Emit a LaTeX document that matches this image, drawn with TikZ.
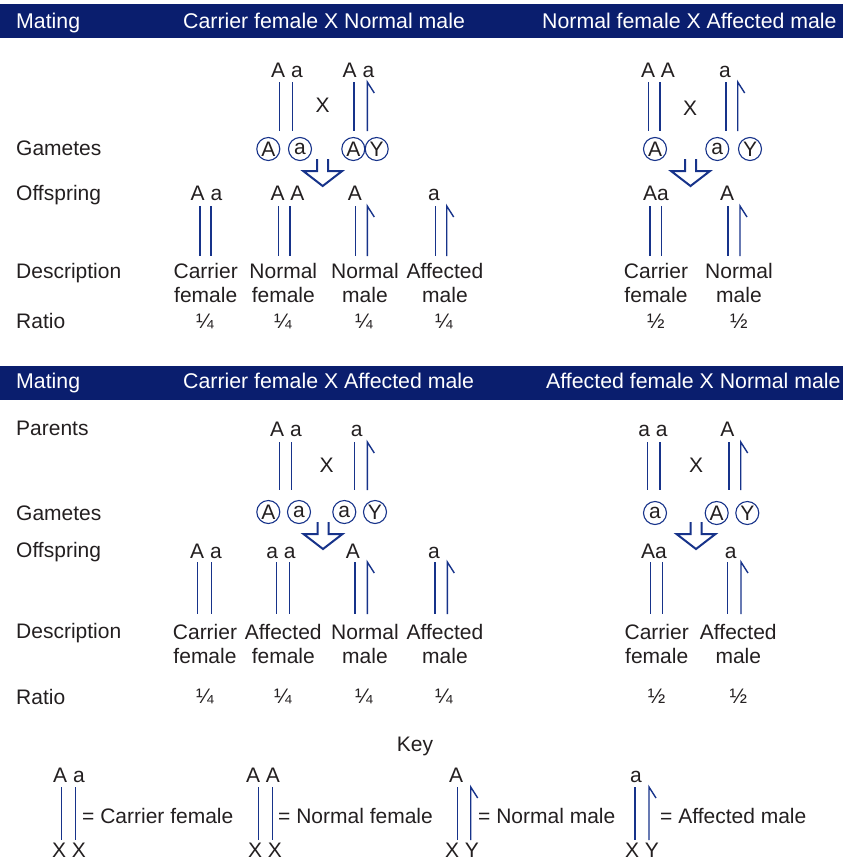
\documentclass[tikz,border=0pt]{standalone}
\usepackage{fontspec}
\setmainfont{Liberation Sans}
\usetikzlibrary{positioning}

\definecolor{navy}{HTML}{0A1E6E}
\definecolor{chromblue}{HTML}{17338A}
\definecolor{txt}{HTML}{231F20}

% X chromosome: x, top, bottom
\newcommand{\xchr}[3]{\draw[chr] (#1,#2) -- (#1,#3);}
% Y chromosome: x, top, bottom (hook at the top)
\newcommand{\ychr}[3]{\draw[chr] (#1,#3) -- (#1,#2) -- ++(7,11);}
% pairs: female XX and male XY
\newcommand{\fpair}[4]{\xchr{#1}{#3}{#4}\xchr{#2}{#3}{#4}}
\newcommand{\mpair}[4]{\xchr{#1}{#3}{#4}\ychr{#2}{#3}{#4}}
% open arrow down: centre x, top y
\newcommand{\gamarrow}[2]{\draw[arr] (#1-5.5,#2) -- ++(0,12) -- ++(-14,0) -- (#1,#2+27) -- (#1+19.5,#2+12) -- ++(-14,0) -- ++(0,-12);}

\begin{document}
\begin{tikzpicture}[x=1pt,y=-1pt,
    font=\fontsize{21}{24}\selectfont,
    lbl/.style={anchor=base west,text=txt,inner sep=0pt},
    al/.style={anchor=base,text=txt,inner sep=0pt},
    hdr/.style={anchor=base west,text=white,inner sep=0pt,font=\fontsize{21.3}{24}\selectfont},
    desc/.style={anchor=base,align=center,text=txt,inner sep=0pt},
    gam/.style={circle,draw=chromblue,line width=1.1pt,inner sep=0pt,minimum size=23pt,text=txt},
    chr/.style={draw=chromblue,line width=1.4pt},
    arr/.style={draw=chromblue,line width=2pt,line join=miter}]
  \useasboundingbox (0,0) rectangle (843,860);

  % headers
  \fill[navy] (0,4) rectangle (843,38);
  \fill[navy] (0,366) rectangle (843,400);
  \path (16,28) node (h1) [hdr] {Mating}
        (183,28) node (h1l) [hdr] {Carrier female X Normal male}
        (542,28) node (h1r) [hdr] {Normal female X Affected male}
        (16,388) node (h2) [hdr] {Mating}
        (183,388) node (h2l) [hdr] {Carrier female X Affected male}
        (546,388) node (h2r) [hdr] {Affected female X Normal male};

  % row labels
  \path (16,155) node (g1) [lbl] {Gametes}
        (16,200) node (o1) [lbl] {Offspring}
        (16,278) node (d1) [lbl] {Description}
        (16,328) node (r1) [lbl] {Ratio}
        (16,435) node (p2) [lbl] {Parents}
        (16,520) node (g2) [lbl] {Gametes}
        (16,557) node (o2) [lbl] {Offspring}
        (16,638) node (d2) [lbl] {Description}
        (16,704) node (r2) [lbl] {Ratio};

  % carrier female x normal male
  \path (287,77) node (p1a) [al] {A a}
        (358.5,77) node (p1b) [al] {A a}
        (322.7,112) node (x1) [al] {X}
        (268.3,149) node (g1a) [gam] {A}
        (300,149) node (g1b) [gam] {a}
        (353.3,149) node (g1c) [gam] {A}
        (376.7,149) node (g1d) [gam] {Y};
  \fpair{279.3}{292.7}{82}{131}
  \mpair{354}{367.3}{82}{131}
  \gamarrow{322.7}{159}
  \path (206.5,200) node (k1a) [al] {A a}
        (287.5,200) node (k1b) [al] {A A}
        (355,200) node (k1c) [al] {A}
        (434,200) node (k1d) [al] {a};
  \fpair{200}{211}{206}{256}
  \fpair{278.3}{290}{206}{256}
  \mpair{355.7}{367.3}{206}{256}
  \mpair{435.3}{446.7}{206}{256}
  \path (205.7,302) node (e1a) [desc] {Carrier\\female}
        (283.3,302) node (e1b) [desc] {Normal\\female}
        (365,302) node (e1c) [desc] {Normal\\male}
        (445,302) node (e1d) [desc] {Affected\\male}
        (205,328) node (q1a) [al] {¼}
        (283,328) node (q1b) [al] {¼}
        (364,328) node (q1c) [al] {¼}
        (444,328) node (q1d) [al] {¼};

  % normal female x affected male
  \path (658,77) node (p2a) [al] {A A}
        (725,77) node (p2b) [al] {a}
        (690,115) node (x2) [al] {X}
        (655,149) node (g2a) [gam] {A}
        (717.3,149) node (g2b) [gam] {a}
        (750,149) node (g2c) [gam] {Y};
  \fpair{648.3}{660}{82}{131}
  \mpair{726}{737.7}{82}{131}
  \gamarrow{690.5}{159}
  \path (656,200) node (k2a) [al] {Aa}
        (727,200) node (k2b) [al] {A};
  \fpair{650}{661.5}{206}{256}
  \mpair{728}{740}{206}{256}
  \path (656,302) node (e2a) [desc] {Carrier\\female}
        (739,302) node (e2b) [desc] {Normal\\male}
        (656,328) node (q2a) [al] {½}
        (739,328) node (q2b) [al] {½};

  % carrier female x affected male
  \path (286,436) node (p3a) [al] {A a}
        (356.7,436) node (p3b) [al] {a}
        (326.7,472) node (x3) [al] {X}
        (268.3,512) node (g3a) [gam] {A}
        (299,512) node (g3b) [gam] {a}
        (344.3,512) node (g3c) [gam] {a}
        (375,512) node (g3d) [gam] {Y};
  \fpair{279.3}{291.7}{442}{490}
  \mpair{354.3}{367.3}{442}{490}
  \gamarrow{323}{522}
  \path (206,558) node (k3a) [al] {A a}
        (281,558) node (k3b) [al] {a a}
        (353,558) node (k3c) [al] {A}
        (434,558) node (k3d) [al] {a};
  \fpair{197.7}{211.7}{562}{614}
  \fpair{276.7}{289.3}{562}{614}
  \mpair{355}{367.3}{562}{614}
  \mpair{435}{447.3}{562}{614}
  \path (205,663) node (e3a) [desc] {Carrier\\female}
        (283.3,663) node (e3b) [desc] {Affected\\female}
        (365,663) node (e3c) [desc] {Normal\\male}
        (445,663) node (e3d) [desc] {Affected\\male}
        (205,703) node (q3a) [al] {¼}
        (283,703) node (q3b) [al] {¼}
        (364,703) node (q3c) [al] {¼}
        (444,703) node (q3d) [al] {¼};

  % affected female x normal male
  \path (653,436) node (p4a) [al] {a a}
        (727.3,436) node (p4b) [al] {A}
        (696,472) node (x4) [al] {X}
        (655,513) node (g4a) [gam] {a}
        (716.7,513) node (g4b) [gam] {A}
        (747.3,513) node (g4c) [gam] {Y};
  \fpair{647.7}{660}{442}{490}
  \mpair{729}{740.7}{442}{490}
  \gamarrow{696}{522}
  \path (654,558) node (k4a) [al] {Aa}
        (730.7,558) node (k4b) [al] {a};
  \fpair{650.7}{662.3}{562}{614}
  \mpair{727.3}{741}{562}{614}
  \path (656.7,663) node (e4a) [desc] {Carrier\\female}
        (738.3,663) node (e4b) [desc] {Affected\\male}
        (656.7,703) node (q4a) [al] {½}
        (738.3,703) node (q4b) [al] {½};

  % key
  \path (415,751) node (key) [al] {Key}
        (69,782) node (ka) [al] {A a}
        (69,857) node (kxa) [al] {X X}
        (82,823) node (kta) [lbl] {= Carrier female}
        (263,782) node (kb) [al] {A A}
        (265,857) node (kxb) [al] {X X}
        (278,823) node (ktb) [lbl] {= Normal female}
        (456,782) node (kc) [al] {A}
        (462,857) node (kxc) [al] {X Y}
        (478,823) node (ktc) [lbl] {= Normal male}
        (636,782) node (kd) [al] {a}
        (642,857) node (kxd) [al] {X Y}
        (660,823) node (ktd) [lbl] {= Affected male};
  \fpair{61.7}{75.7}{787}{840}
  \fpair{258.7}{272.3}{787}{840}
  \mpair{457.7}{470.7}{787}{840}
  \mpair{635}{649}{787}{840}
\end{tikzpicture}
\end{document}
